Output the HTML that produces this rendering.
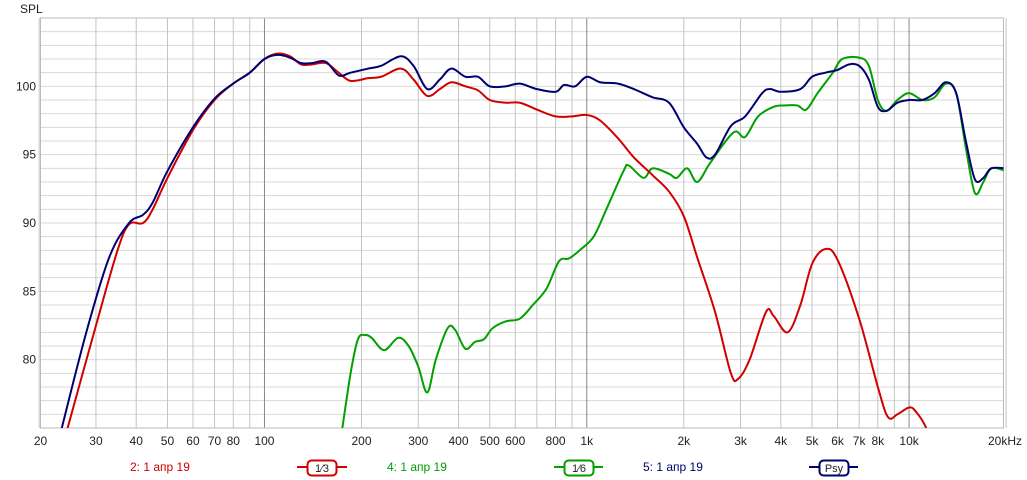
<!DOCTYPE html>
<html><head><meta charset="utf-8"><style>
body{margin:0;background:#fff;}
svg{display:block;font-family:"Liberation Sans",sans-serif;}
</style></head><body>
<svg id="s" width="1027" height="480" xmlns="http://www.w3.org/2000/svg">
<defs><clipPath id="c"><rect x="40.5" y="18" width="963" height="410"/></clipPath></defs>
<g id="grid"></g>
<text x="20" y="13" font-size="12" fill="#222">SPL</text>
<g id="curves" clip-path="url(#c)" fill="none" stroke-width="2" stroke-linejoin="round"></g>
<g font-size="12">
<text x="130" y="471" fill="#d00000">2: 1 апр 19</text>
<line x1="297" y1="467" x2="347" y2="467" stroke="#d00000" stroke-width="2"/>
<rect x="307.5" y="460.5" width="29" height="15" rx="4" fill="#fff" stroke="#d00000" stroke-width="2"/>
<text x="322" y="472" text-anchor="middle" fill="#222" font-size="11">1⁄3</text>
<text x="387" y="471" fill="#00a000">4: 1 апр 19</text>
<line x1="554" y1="467" x2="603" y2="467" stroke="#00a000" stroke-width="2"/>
<rect x="564.5" y="460.5" width="29" height="15" rx="4" fill="#fff" stroke="#00a000" stroke-width="2"/>
<text x="579" y="472" text-anchor="middle" fill="#222" font-size="11">1⁄6</text>
<text x="643" y="471" fill="#000070">5: 1 апр 19</text>
<line x1="809" y1="467" x2="858" y2="467" stroke="#000070" stroke-width="2"/>
<rect x="819.5" y="460.5" width="29" height="15" rx="4" fill="#fff" stroke="#000070" stroke-width="2"/>
<text x="834" y="472" text-anchor="middle" fill="#222" font-size="11">Psy</text>
</g>
</svg>
<script>
const NS="http://www.w3.org/2000/svg";
const X=f=>39.2+322.3*Math.log10(f/20), Y=d=>18+(105-d)*13.667;
const g=document.getElementById('grid');
function el(t,a,p){const e=document.createElementNS(NS,t);for(const k in a)e.setAttribute(k,a[k]);(p||g).appendChild(e);return e;}
for(let d=75;d<=105;d++){el('line',{x1:40.5,x2:1003.5,y1:Y(d),y2:Y(d),stroke:'#d8d8d8','stroke-width':1});}
const fs=[];for(const dec of [10,100,1000,10000])for(let m=1;m<10;m++){const f=m*dec;if(f>=20&&f<=20000)fs.push(f);}
fs.forEach(f=>{const dark=(f==100||f==1000||f==10000);el('line',{x1:X(f),x2:X(f),y1:18,y2:428,stroke:dark?'#888':'#c4c4c4','stroke-width':1});});
el('rect',{x:40.5,y:18,width:963,height:410,fill:'none',stroke:'#bbb','stroke-width':1});
for(let d=80;d<=100;d+=5){const t=el('text',{x:36,y:Y(d)+4,'text-anchor':'end','font-size':12,fill:'#222'});t.textContent=d;}
const lab={20:'20',30:'30',40:'40',50:'50',60:'60',70:'70',80:'80',100:'100',200:'200',300:'300',400:'400',500:'500',600:'600',800:'800',1000:'1k',2000:'2k',3000:'3k',4000:'4k',5000:'5k',6000:'6k',7000:'7k',8000:'8k',10000:'10k',20000:'20kHz'};
for(const f in lab){const t=el('text',{x:(f==20000?1005:f==20?40.5:X(+f)),y:445,'text-anchor':'middle','font-size':12,fill:'#222'});t.textContent=lab[f];}
const red=[[24.5,75],[30,82.5],[35,88],[38,89.9],[42,90],[45,91],[50,93.3],[60,96.8],[70,99],[80,100.2],[90,101],[100,102],[110,102.4],[120,102.2],[130,101.6],[140,101.6],[155,101.7],[170,101],[185,100.4],[210,100.6],[230,100.7],[265,101.3],[290,100.5],[320,99.3],[350,99.8],[380,100.3],[420,100],[460,99.7],[500,99],[560,98.8],[620,98.8],[700,98.3],[800,97.8],[900,97.8],[1000,97.9],[1100,97.5],[1250,96.2],[1400,94.8],[1600,93.5],[1800,92.3],[2000,90.5],[2200,87.5],[2500,83.5],[2800,79],[2950,78.6],[3200,80],[3600,83.5],[3800,83.2],[4200,82],[4600,84],[5000,87],[5500,88.1],[6000,87.3],[7000,83],[8000,78],[8600,75.8],[9200,76],[10000,76.5],[10500,76.2],[11300,75],[12000,73]];
const blue=[[23.5,75],[28,82],[33,87.5],[38,90],[42,90.6],[45,91.5],[50,93.8],[60,97],[70,99.1],[80,100.2],[90,101],[100,102],[110,102.3],[120,102.1],[130,101.7],[140,101.7],[155,101.8],[170,100.8],[185,101],[210,101.3],[230,101.5],[265,102.2],[290,101.5],[320,99.8],[350,100.5],[380,101.3],[420,100.7],[460,100.7],[500,100],[560,100],[620,100.2],[700,99.8],[800,99.6],[850,100.1],[920,100],[1000,100.7],[1100,100.3],[1250,100.2],[1400,99.8],[1600,99.2],[1800,98.8],[2000,97],[2200,95.8],[2350,94.8],[2500,95],[2800,97.1],[3100,97.8],[3500,99.5],[3700,99.8],[4000,99.6],[4600,99.8],[5000,100.7],[5500,101],[6000,101.2],[6500,101.6],[7000,101.5],[7500,100.5],[8000,98.5],[8500,98.2],[9200,98.8],[10000,99],[11000,99],[12000,99.5],[13000,100.3],[14000,99.5],[15000,96],[16000,93.2],[17000,93.3],[18000,94],[20000,94]];
const green=[[172,74],[185,79],[195,81.5],[205,81.8],[215,81.6],[235,80.7],[260,81.6],[280,81],[300,79.5],[320,77.6],[340,80],[370,82.3],[390,82.2],[420,80.8],[450,81.3],[480,81.5],[510,82.3],[560,82.8],[620,83],[680,84],[750,85.2],[820,87.2],[880,87.4],[950,88],[1050,89],[1150,91],[1300,93.8],[1350,94.2],[1500,93.3],[1600,94],[1800,93.6],[1900,93.3],[2050,94],[2200,93],[2400,94.3],[2700,96],[2900,96.7],[3100,96.3],[3400,97.8],[3800,98.5],[4100,98.6],[4500,98.6],[4800,98.3],[5200,99.5],[5800,101],[6200,102],[7000,102.1],[7500,101.5],[8000,99],[8500,98.2],[9200,99],[10000,99.5],[11000,99],[12000,99.2],[13000,100.2],[14000,99.5],[15000,95.5],[16000,92.2],[17000,93],[18000,94],[20000,93.8]];
function path(pts){const p=pts.map(([f,d])=>[X(f),Y(d)]);let s=`M${p[0][0]},${p[0][1]}`;for(let i=0;i<p.length-1;i++){const p0=p[i-1]||p[i],p1=p[i],p2=p[i+1],p3=p[i+2]||p2;s+=`C${p1[0]+(p2[0]-p0[0])/6},${p1[1]+(p2[1]-p0[1])/6} ${p2[0]-(p3[0]-p1[0])/6},${p2[1]-(p3[1]-p1[1])/6} ${p2[0]},${p2[1]}`;}return s;}
const cg=document.getElementById('curves');
el('path',{d:path(green),stroke:'#00a000'},cg);
el('path',{d:path(red),stroke:'#d00000'},cg);
el('path',{d:path(blue),stroke:'#000070'},cg);
</script>
</body></html>
